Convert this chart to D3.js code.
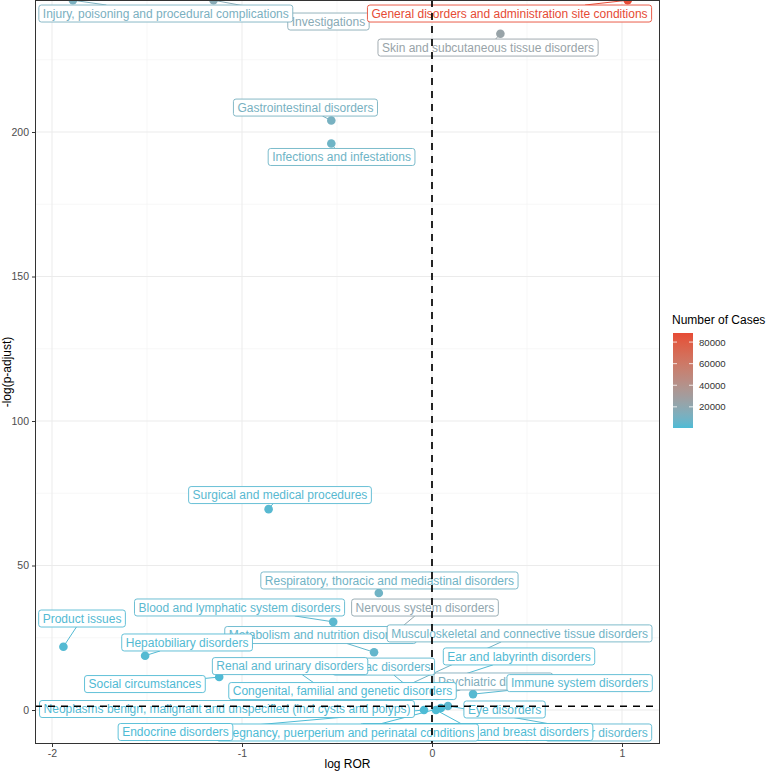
<!DOCTYPE html>
<html>
<head>
<meta charset="utf-8">
<script src="https://cdn.jsdelivr.net/npm/d3@7"></script>
<style>
  html, body { margin: 0; padding: 0; background: #fff; }
  svg { display: block; font-family: "Liberation Sans", Arial, Helvetica, sans-serif; }
</style>
</head>
<body>
<div id="chart"></div>
<script>
// ---------------- data ----------------
const categories = [
  "Investigations",
  "Injury, poisoning and procedural complications",
  "General disorders and administration site conditions",
  "Skin and subcutaneous tissue disorders",
  "Gastrointestinal disorders",
  "Infections and infestations",
  "Surgical and medical procedures",
  "Respiratory, thoracic and mediastinal disorders",
  "Blood and lymphatic system disorders",
  "Nervous system disorders",
  "Metabolism and nutrition disorders",
  "Musculoskeletal and connective tissue disorders",
  "Cardiac disorders",
  "Renal and urinary disorders",
  "Psychiatric disorders",
  "Congenital, familial and genetic disorders",
  "Ear and labyrinth disorders",
  "Immune system disorders",
  "Neoplasms benign, malignant and unspecified (incl cysts and polyps)",
  "Eye disorders",
  "Vascular disorders",
  "Reproductive system and breast disorders",
  "Pregnancy, puerperium and perinatal conditions",
  "Endocrine disorders",
  "Social circumstances",
  "Product issues",
  "Hepatobiliary disorders"
];
const logROR = [-1.15, -1.89, 1.03, 0.36, -0.53, -0.53, -0.86, -0.28, -0.52, -0.20, -0.305, -0.147,
  -0.079, -0.568, 0.026, -0.295, -0.10, 0.216, -0.116, 0.20, 0.084, 0.021, 0.047, -0.042, -1.12, -1.94, -1.51];
const negLogPadj = [245.6, 245.6, 245.6, 234, 204, 196, 69.5, 40.5, 30.5, 26.5, 20, 8.0,
  5.5, 6.9, 4.85, 5.0, 6.6, 5.5, 0.35, 0.7, 1.4, 0.0, 0.7, 0.0, 11.4, 21.9, 18.8];
const cases = [17000, 12000, 88400, 24000, 11000, 8000, 2500, 8500, 3500, 21000, 5000, 9000,
  4000, 3000, 14000, 1000, 1200, 2500, 1500, 2000, 3000, 800, 400, 600, 1000, 1500, 1800];
// label placement (repel result), offsets in data units from each point
const labelNudgeX = [0.605, 0.489, -0.622, -0.065, -0.136, 0.054, 0.06, 0.056, -0.493, 0.163, -0.282, 0.608,
  -0.176, -0.179, 0.297, -0.176, 0.558, 0.561, -0.963, 0.182, 0.792, 0.213, -0.492, -1.308, -0.391, 0.098, 0.221];
const labelNudgeY = [-7.37, -4.6, -4.6, -4.78, 4.46, -4.64, 4.88, 4.33, 4.98, 8.96, 5.95, 18.51,
  9.52, 8.3, 5.02, 1.56, 11.94, 3.81, 0, -0.52, -9.17, -7.61, -8.48, -7.61, -2.42, 9.76, 4.57];
const xTicks = [-2, -1, 0, 1];
const yTicks = [0, 50, 100, 150, 200];
const legendTicks = [20000, 40000, 60000, 80000];
const pCutoff = -Math.log10(0.05);

// ---------------- layout ----------------
const W = 767, H = 773;
const panel = {left: 35, right: 660, top: 0, bottom: 744};

const svg = d3.select("#chart").append("svg").attr("width", W).attr("height", H);
svg.append("rect").attr("width", W).attr("height", H).attr("fill", "#fff");

const x = d3.scaleLinear().domain([-2.0895, 1.2]).range([panel.left, panel.right]);
const y = d3.scaleLinear().domain([-11.76, 245.68]).range([panel.bottom, panel.top]);
const cmin = d3.min(cases), cmax = d3.max(cases);
const color = d3.scaleLinear().domain([cmin, cmax]).range(["#4DBBD5", "#E64B35"]).interpolate(d3.interpolateLab);

const data = categories.map((c, i) => ({
  name: c, lr: logROR[i], p: negLogPadj[i], n: cases[i],
  lx: logROR[i] + labelNudgeX[i], ly: negLogPadj[i] + labelNudgeY[i]
}));

const defs = svg.append("defs");
defs.append("clipPath").attr("id", "clip").append("rect")
  .attr("x", panel.left).attr("y", panel.top)
  .attr("width", panel.right - panel.left).attr("height", panel.bottom - panel.top);

// grid
const grid = svg.append("g");
const minorX = [-1.5, -0.5, 0.5];
const minorY = [25, 75, 125, 175, 225];
minorX.forEach(v => grid.append("line").attr("x1", x(v)).attr("x2", x(v)).attr("y1", panel.top).attr("y2", panel.bottom)
  .attr("stroke", "#F2F2F2").attr("stroke-width", 0.6));
minorY.forEach(v => grid.append("line").attr("y1", y(v)).attr("y2", y(v)).attr("x1", panel.left).attr("x2", panel.right)
  .attr("stroke", "#F2F2F2").attr("stroke-width", 0.6));
xTicks.forEach(v => grid.append("line").attr("x1", x(v)).attr("x2", x(v)).attr("y1", panel.top).attr("y2", panel.bottom)
  .attr("stroke", "#EBEBEB").attr("stroke-width", 1));
yTicks.forEach(v => grid.append("line").attr("y1", y(v)).attr("y2", y(v)).attr("x1", panel.left).attr("x2", panel.right)
  .attr("stroke", "#EBEBEB").attr("stroke-width", 1));

const plot = svg.append("g").attr("clip-path", "url(#clip)");

// points
plot.append("g").selectAll("circle").data(data).join("circle")
  .attr("cx", d => x(d.lr)).attr("cy", d => y(d.p)).attr("r", 4.3)
  .attr("fill", d => color(d.n));

// measure labels
const measure = svg.append("text").attr("font-size", 12).attr("visibility", "hidden");
data.forEach(d => {
  measure.text(d.name);
  d.tw = measure.node().getComputedTextLength();
  d.bw = d.tw + 8; d.bh = 17;
  d.cx = x(d.lx); d.cy = y(d.ly);
  d.px = x(d.lr); d.py = y(d.p);
});
measure.remove();

// segments
const segG = plot.append("g");
data.forEach(d => {
  const hw = d.bw / 2, hh = d.bh / 2;
  const dx = d.px - d.cx, dy = d.py - d.cy;
  if (Math.abs(dx) <= hw && Math.abs(dy) <= hh) return;
  const t = Math.min(dx !== 0 ? hw / Math.abs(dx) : Infinity, dy !== 0 ? hh / Math.abs(dy) : Infinity);
  const ex = d.cx + dx * t, ey = d.cy + dy * t;
  const len = Math.hypot(d.px - ex, d.py - ey);
  if (len < 6) return;
  segG.append("line").attr("x1", d.px).attr("y1", d.py).attr("x2", ex).attr("y2", ey)
    .attr("stroke", color(d.n)).attr("stroke-width", 1);
});

// labels
const labG = plot.append("g");
data.forEach(d => {
  const g = labG.append("g");
  g.append("rect").attr("x", d.cx - d.bw / 2).attr("y", d.cy - d.bh / 2)
    .attr("width", d.bw).attr("height", d.bh).attr("rx", 2.5).attr("ry", 2.5)
    .attr("fill", "#fff").attr("stroke", color(d.n)).attr("stroke-width", 0.9);
  g.append("text").attr("x", d.cx).attr("y", d.cy + 4.3).attr("text-anchor", "middle")
    .attr("font-size", 12).attr("fill", color(d.n)).text(d.name);
});

// reference lines
plot.append("line").attr("x1", x(0)).attr("x2", x(0)).attr("y1", panel.top).attr("y2", panel.bottom)
  .attr("stroke", "#000").attr("stroke-width", 1.7).attr("stroke-dasharray", "7,6");
plot.append("line").attr("x1", panel.left).attr("x2", panel.right).attr("y1", y(pCutoff)).attr("y2", y(pCutoff))
  .attr("stroke", "#000").attr("stroke-width", 1.7).attr("stroke-dasharray", "7,6");

// panel border
svg.append("rect").attr("x", panel.left + 0.5).attr("y", panel.top + 0.5)
  .attr("width", panel.right - panel.left - 1).attr("height", panel.bottom - panel.top - 1)
  .attr("fill", "none").attr("stroke", "#333").attr("stroke-width", 1);

// axes
const xAxis = svg.append("g").attr("transform", `translate(0,${panel.bottom})`)
  .call(d3.axisBottom(x).tickValues(xTicks).tickSize(3).tickPadding(3).tickFormat(d3.format("d")));
const yAxis = svg.append("g").attr("transform", `translate(${panel.left},0)`)
  .call(d3.axisLeft(y).tickValues(yTicks).tickSize(3).tickPadding(3).tickFormat(d3.format("d")));
[xAxis, yAxis].forEach(a => {
  a.select(".domain").remove();
  a.selectAll(".tick line").attr("stroke", "#333");
  a.selectAll(".tick text").attr("fill", "#4D4D4D").attr("font-size", 10.5)
    .attr("font-family", "'Liberation Sans', Arial, Helvetica, sans-serif");
});
xAxis.selectAll(".tick text").text(d => d < 0 ? "-" + Math.abs(d) : d);

// axis titles
svg.append("text").attr("x", (panel.left + panel.right) / 2).attr("y", 768).attr("text-anchor", "middle")
  .attr("font-size", 12).attr("fill", "#000").text("log ROR");
svg.append("text").attr("transform", `translate(11,${(panel.top + panel.bottom) / 2}) rotate(-90)`)
  .attr("text-anchor", "middle").attr("font-size", 12).attr("fill", "#000").text("-log(p-adjust)");

// legend
const leg = {x: 673, top: 333, bottom: 428, w: 20};
const lgScale = d3.scaleLinear().domain([cmin, cmax]).range([leg.bottom, leg.top]);
const grad = defs.append("linearGradient").attr("id", "lg").attr("x1", 0).attr("y1", 1).attr("x2", 0).attr("y2", 0);
d3.range(0, 1.0001, 0.05).forEach(t => grad.append("stop").attr("offset", t)
  .attr("stop-color", color(cmin + t * (cmax - cmin))));
svg.append("text").attr("x", 672).attr("y", 324).attr("font-size", 12).attr("fill", "#000").text("Number of Cases");
svg.append("rect").attr("x", leg.x).attr("y", leg.top).attr("width", leg.w).attr("height", leg.bottom - leg.top)
  .attr("fill", "url(#lg)");
legendTicks.forEach(v => {
  const yy = lgScale(v);
  svg.append("line").attr("x1", leg.x).attr("x2", leg.x + 4).attr("y1", yy).attr("y2", yy).attr("stroke", "#fff").attr("stroke-width", 0.8);
  svg.append("line").attr("x1", leg.x + leg.w - 4).attr("x2", leg.x + leg.w).attr("y1", yy).attr("y2", yy).attr("stroke", "#fff").attr("stroke-width", 0.8);
  svg.append("text").attr("x", 699).attr("y", yy + 3.5).attr("font-size", 9.6).attr("fill", "#333").text(v);
});
</script>
</body>
</html>
